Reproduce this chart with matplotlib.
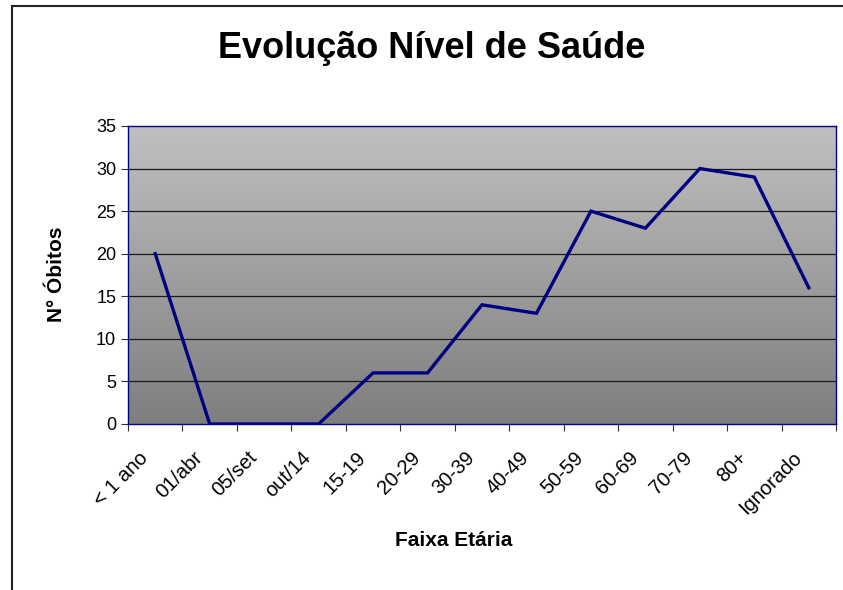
import matplotlib.pyplot as plt
import numpy as np
from matplotlib.patches import Rectangle
from matplotlib.transforms import ScaledTranslation

plt.rcParams['font.family'] = ['Liberation Sans', 'DejaVu Sans']

faixas = ['< 1 ano', '01/abr', '05/set', 'out/14', '15-19', '20-29', '30-39',
          '40-49', '50-59', '60-69', '70-79', '80+', 'Ignorado']
obitos = [20, 0, 0, 0, 6, 6, 14, 13, 25, 23, 30, 29, 16]
y_ticks = [0, 5, 10, 15, 20, 25, 30, 35]

navy = '#000080'
W, H = 843, 590
fig = plt.figure(figsize=(W / 100, H / 100), dpi=100)
ax = fig.add_axes([128 / W, 1 - 424 / H, (836 - 128) / W, (424 - 126) / H])

n = len(faixas)
x = np.arange(n) + 0.5

# fundo em degradê (cinza claro no topo, escuro em baixo)
grad = np.linspace(0, 1, 256).reshape(-1, 1)
ax.imshow(grad, extent=[0, n, 0, 35], aspect='auto', origin='upper',
          cmap=plt.matplotlib.colors.LinearSegmentedColormap.from_list('g', ['#c0c0c0', '#7e7e7e']),
          zorder=0)

for yv in y_ticks[1:-1]:
    ax.axhline(yv, color='#1a1a1a', linewidth=0.9, zorder=1)

ax.plot(x, obitos, color=navy, linewidth=2.4, solid_joinstyle='miter', zorder=3)

ax.set_xlim(0, n)
ax.set_ylim(0, 35)
ax.set_yticks(y_ticks)
ax.set_xticks(np.arange(n + 1))
ax.set_xticklabels([])

# rótulos das categorias, girados 45°
shift = ScaledTranslation(-17 / 100, -24 / 100, fig.dpi_scale_trans)
for xi, lab in zip(x, faixas):
    ax.text(xi, 0, lab, transform=ax.get_xaxis_transform() + shift,
            rotation=45, ha='right', va='top', rotation_mode='anchor', fontsize=14.5)

ax.tick_params(axis='both', which='major', direction='out', length=5, width=0.8,
               color='#333333', labelsize=13)
for s in ax.spines.values():
    s.set_color(navy)
    s.set_linewidth(1.0)

fig.text(432 / W, 1 - 49 / H, 'Evolução Nível de Saúde', ha='center', va='center',
         fontsize=26, fontweight='bold')
fig.text(57 / W, 1 - 274 / H, 'N° Óbitos', rotation=90, ha='center', va='center',
         fontsize=15, fontweight='bold')
fig.text(454 / W, 1 - 541 / H, 'Faixa Etária', ha='center', va='center',
         fontsize=15, fontweight='bold')

fig.patches.append(Rectangle((12 / W, -0.1), 1.2, 1 - 6 / H + 0.1, transform=fig.transFigure,
                             fill=False, edgecolor='#222222', linewidth=1.5))

fig.savefig('out.png', dpi=100)
